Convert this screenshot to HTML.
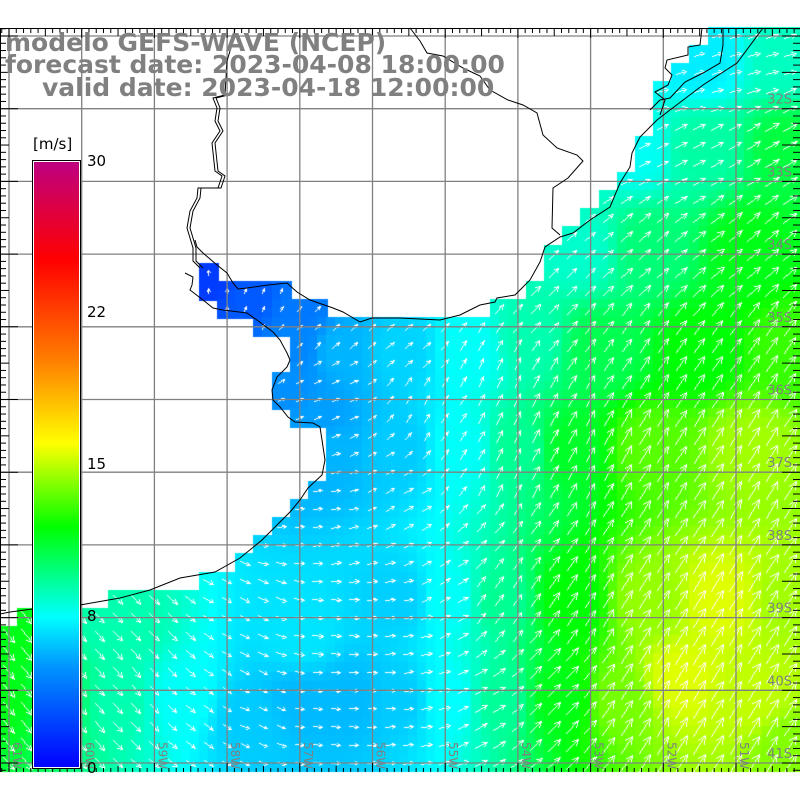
<!DOCTYPE html>
<html><head><meta charset="utf-8">
<style>
html,body{margin:0;padding:0;background:#fff;}
#wrap{position:relative;width:800px;height:800px;overflow:hidden;background:#fff;}
canvas,svg{position:absolute;left:0;top:0;}
</style></head>
<body><div id="wrap">
<canvas id="c" width="800" height="800"></canvas>
<svg id="s" width="800" height="800" xmlns="http://www.w3.org/2000/svg" font-family="DejaVu Sans, Liberation Sans, sans-serif"></svg>
</div>
<script>
const X0=-0.5,Y0=27,C=18.17,G=72.7;
const land=[[-10,-10],[712,-10],[710,45],[692,45],[692,63],[673,63],[673,82],[655,82],[655,136],[637,136],[637,172],[618,172],[618,190],[600,190],[600,209],[582,209],[582,227],[563,227],[563,245],[545,245],[545,281],[527,281],[527,300],[490,300],[490,318],[330,318],[330,300],[292,300],[292,281],[218,281],[218,262],[199,262],[199,300],[216,300],[216,318],[254,318],[254,337],[290,337],[290,372],[272,372],[272,409],[290,409],[290,427],[326,427],[326,482],[308,482],[308,500],[290,500],[290,518],[272,518],[272,537],[254,537],[254,555],[236,555],[236,573],[200,573],[200,591],[100,591],[100,609],[18,609],[18,627],[-10,627]];
function inPoly(x,y,p){let c=false;for(let i=0,j=p.length-1;i<p.length;j=i++){const[xi,yi]=p[i],[xj,yj]=p[j];if((yi>y)!=(yj>y)&&x<(xj-xi)*(y-yi)/(yj-yi)+xi)c=!c;}return c;}
const SP=[[10,700,11.5],[60,700,10],[120,700,8.8],[180,700,7.5],[250,720,6.2],[300,700,5.8],[350,700,5.8],[400,700,6.2],[450,700,7.4],[500,700,9.2],[560,700,11.5],[620,700,13.8],[680,680,15.5],[750,700,15],[790,750,14],
[10,640,11.5],[120,630,8.8],[300,640,6.8],[400,600,6.3],[450,600,7.5],[500,600,9.3],[570,600,11.8],[650,600,14.3],[720,600,15.5],[790,600,14.5],
[330,450,5.7],[400,450,6.2],[460,450,7.5],[520,450,9.3],[570,450,11.2],[650,450,13.3],[750,450,14.5],
[340,350,5.7],[400,350,6.4],[470,350,7.5],[530,340,8.8],[600,350,10.5],[700,350,11.8],[790,350,12.8],
[580,250,8.3],[650,250,9.8],[750,250,11.5],[640,150,7.6],[700,150,9],[790,150,10.8],[700,60,7],[790,60,8.5],
[210,280,2],[250,300,3],[300,310,4],[295,345,4.5],[285,390,4.8],[320,420,5.2]];
const AN=[[20,700,-50],[120,680,-50],[200,700,-40],[260,700,-20],[320,700,-5],[380,700,0],[430,700,10],[480,700,30],[550,700,45],[650,700,58],[750,700,58],
[20,640,-50],[150,630,-45],[250,620,-25],[330,640,-5],[400,620,5],[450,600,30],[500,600,55],[600,600,58],[750,600,58],
[330,500,10],[400,480,30],[450,450,55],[500,450,65],[600,450,60],[750,450,58],
[330,400,20],[420,400,55],[500,380,65],[650,350,55],[750,350,55],
[400,340,40],[550,300,45],[650,250,40],[750,250,40],[650,150,25],[750,150,30],[700,80,15],[750,50,15],
[210,280,90],[260,300,65],[300,330,45]];
function idw(P,x,y){let s=0,w=0;for(const p of P){const d=(p[0]-x)**2+(p[1]-y)**2+1;const k=1/(d*d);s+=k*p[2];w+=k;}return s/w;}
const stops=[[0,[0,0,255]],[5,[0,150,255]],[7.4,[0,255,255]],[11.9,[0,255,0]],[16,[255,255,0]],[20,[255,128,0]],[25,[255,0,0]],[30,[190,0,128]]];
function col(v){v=Math.max(0,Math.min(30,v));for(let i=1;i<stops.length;i++){if(v<=stops[i][0]){const a=stops[i-1],b=stops[i];const t=(v-a[0])/(b[0]-a[0]);return 'rgb('+a[1].map((c,k)=>Math.round(c+(b[1][k]-c)*t)).join(',')+')';}}return 'rgb(190,0,128)';}
const cv=document.getElementById('c').getContext('2d');
const h=C/2;
for(let r=0;r<82;r++)for(let q=0;q<90;q++){const x=X0+q*h,y=Y0+r*h;if(y>772||x>800)continue;
 const ci=Math.floor(q/2),cj=Math.floor(r/2);const cx=X0+ci*C+C/2,cy=Y0+cj*C+C/2;if(inPoly(cx,cy,land))continue;
 cv.fillStyle=col(idw(SP,x+h/2,y+h/2));cv.fillRect(Math.floor(x),Math.floor(y),Math.ceil(h)+1,Math.min(Math.ceil(h)+1,772-Math.floor(y)));}
cv.fillStyle='#fff';
function line(x0,y0,x1,y1){x0=Math.round(x0);y0=Math.round(y0);x1=Math.round(x1);y1=Math.round(y1);
 const dx=Math.abs(x1-x0),dy=-Math.abs(y1-y0),sx=x0<x1?1:-1,sy=y0<y1?1:-1;let e=dx+dy;
 for(let n=0;n<200;n++){if(y0<772)cv.fillRect(x0,y0,1,1);if(x0==x1&&y0==y1)break;const e2=2*e;if(e2>=dy){e+=dy;x0+=sx;}if(e2<=dx){e+=dx;y0+=sy;}}}
for(let cj=0;cj<41;cj++)for(let ci=0;ci<45;ci++){const cx=X0+ci*C+C/2,cy=Y0+cj*C+C/2;if(inPoly(cx,cy,land)||cy>772)continue;
 const v=idw(SP,cx,cy),a=idw(AN,cx,cy)*Math.PI/180;const L=Math.max(5,1.5*v);const dx=Math.cos(a),dy=-Math.sin(a);
 const x1=cx-dx*L/2,y1=cy-dy*L/2,x2=cx+dx*L/2,y2=cy+dy*L/2;const hl=Math.max(3,0.38*L);
 line(x1,y1,x2,y2);
 for(const s of[0.45,-0.45]){const b=Math.atan2(dy,dx)+Math.PI+s;line(x2,y2,x2+Math.cos(b)*hl,y2+Math.sin(b)*hl);}}
let o='';
for(let k=0;k<11;k++){const x=9+k*G;o+=`<line x1="${x}" y1="28" x2="${x}" y2="772" stroke="#808080" stroke-width="1.3"/>`;const y=36+k*G;o+=`<line x1="0" y1="${y}" x2="800" y2="${y}" stroke="#808080" stroke-width="1.3"/>`;}
const coast=[[763,28],[737,63],[703,85],[670,110],[657,120],[640,137],[632,153],[630,167],[620,183],[610,207],[590,220],[573,233],[560,237],[545,247],[540,262],[530,280],[515,295],[497,298],[495,302],[480,305],[460,315],[440,320],[400,318],[372,318],[360,322],[343,312],[333,308],[310,300],[297,292],[287,283],[268,285],[247,288],[238,289],[233,283],[227,273],[217,265],[203,253],[197,247],[195,240]];
const arg=[[185,273],[193,277],[192,285],[190,290],[203,300],[213,308],[223,310],[247,313],[257,320],[273,332],[280,340],[287,353],[290,360],[287,367],[277,377],[272,390],[273,400],[280,407],[288,417],[295,422],[313,423],[320,427],[322,440],[325,460],[322,475],[308,488],[300,500],[290,512],[280,522],[262,540],[240,558],[215,572],[180,578],[150,590],[120,598],[80,605],[40,608],[10,612],[0,614]];
const border=[[410,28],[420,41],[427,53],[443,56],[463,68],[480,76],[490,90],[508,100],[523,105],[537,113],[543,135],[557,148],[577,155],[583,161],[568,178],[553,188],[552,228],[560,235]];
const river=[[235,28],[233,41],[227,61],[225,95],[213,98],[217,108],[215,121],[220,131],[212,143],[215,171],[222,176],[218,188],[198,188],[197,198],[190,211],[187,228],[193,248],[193,261],[200,268]];
const lag1=[[702,28],[700,45],[688,47],[688,55],[667,60],[665,68],[672,75],[668,85],[655,92],[665,100],[660,115]];
const lag2=[[723,28],[723,45],[720,63],[703,73],[685,82],[670,98],[660,100],[650,110]];
const pl=(p,dx=0)=>`<polyline fill="none" stroke="#000" stroke-width="1" points="${p.map(q=>(q[0]+dx)+','+q[1]).join(' ')}"/>`;
o+=pl(coast)+pl(arg)+pl(border)+pl(river)+pl(river.slice(3),3)+pl(lag1)+pl(lag2);
o+=`<line x1="0" y1="28.5" x2="800" y2="28.5" stroke="#000"/><line x1="0.5" y1="28" x2="0.5" y2="772" stroke="#000"/>`;
for(let i=-2;i<112;i++){const t=i%10==0?2:(i%5==0?1:0);const x=9+i*G/10,y=36+i*G/10;
 if(x>0&&x<800){const L=[5,8,10][t];o+=`<line x1="${x}" y1="28" x2="${x}" y2="${28+L}" stroke="#000"/><line x1="${x}" y1="772" x2="${x}" y2="${772-[4,6,9][t]}" stroke="#000"/>`;}
 if(y>28&&y<772){o+=`<line x1="0" y1="${y}" x2="${[6,9,18][t]}" y2="${y}" stroke="#000"/><line x1="800" y1="${y}" x2="${800-[7,18,18][t]}" y2="${y}" stroke="#000"/>`;}}
for(let k=1;k<=10;k++){const y=36+k*G-5;o+=`<text x="792" y="${y}" text-anchor="end" font-size="13" fill="#808080">${31+k}S</text>`;}
for(let k=0;k<11;k++){const x=9+k*G+4;o+=`<text transform="translate(${x},742) rotate(90)" font-size="12" fill="#808080">${61-k}W</text>`;}
o+=`<defs><linearGradient id="g" x1="0" y1="1" x2="0" y2="0"><stop offset="0" stop-color="#0000ff"/><stop offset="0.167" stop-color="#0096ff"/><stop offset="0.248" stop-color="#00ffff"/><stop offset="0.397" stop-color="#00ff00"/><stop offset="0.535" stop-color="#ffff00"/><stop offset="0.67" stop-color="#ff8000"/><stop offset="0.838" stop-color="#ff0000"/><stop offset="1" stop-color="#be0080"/></linearGradient></defs>`;
o+=`<rect x="32.5" y="160.5" width="48" height="608" fill="#fff" stroke="#000"/><rect x="34" y="162" width="45" height="605" fill="url(#g)"/>`;
o+=`<text x="33" y="149" font-size="15" fill="#000">[m/s]</text>`;
[[30,166],[22,317],[15,469],[8,621],[0,773]].forEach(([v,y])=>o+=`<text x="87" y="${y}" font-size="15" fill="#000">${v}</text>`);
o+=`<g font-weight="bold" font-size="25" fill="#808080"><text x="5" y="51">modelo GEFS-WAVE (NCEP)</text><text x="5" y="73">forecast date: 2023-04-08 18:00:00</text><text x="42" y="96">valid date: 2023-04-18 12:00:00</text></g>`;
document.getElementById('s').innerHTML=o;
</script>
</body></html>
